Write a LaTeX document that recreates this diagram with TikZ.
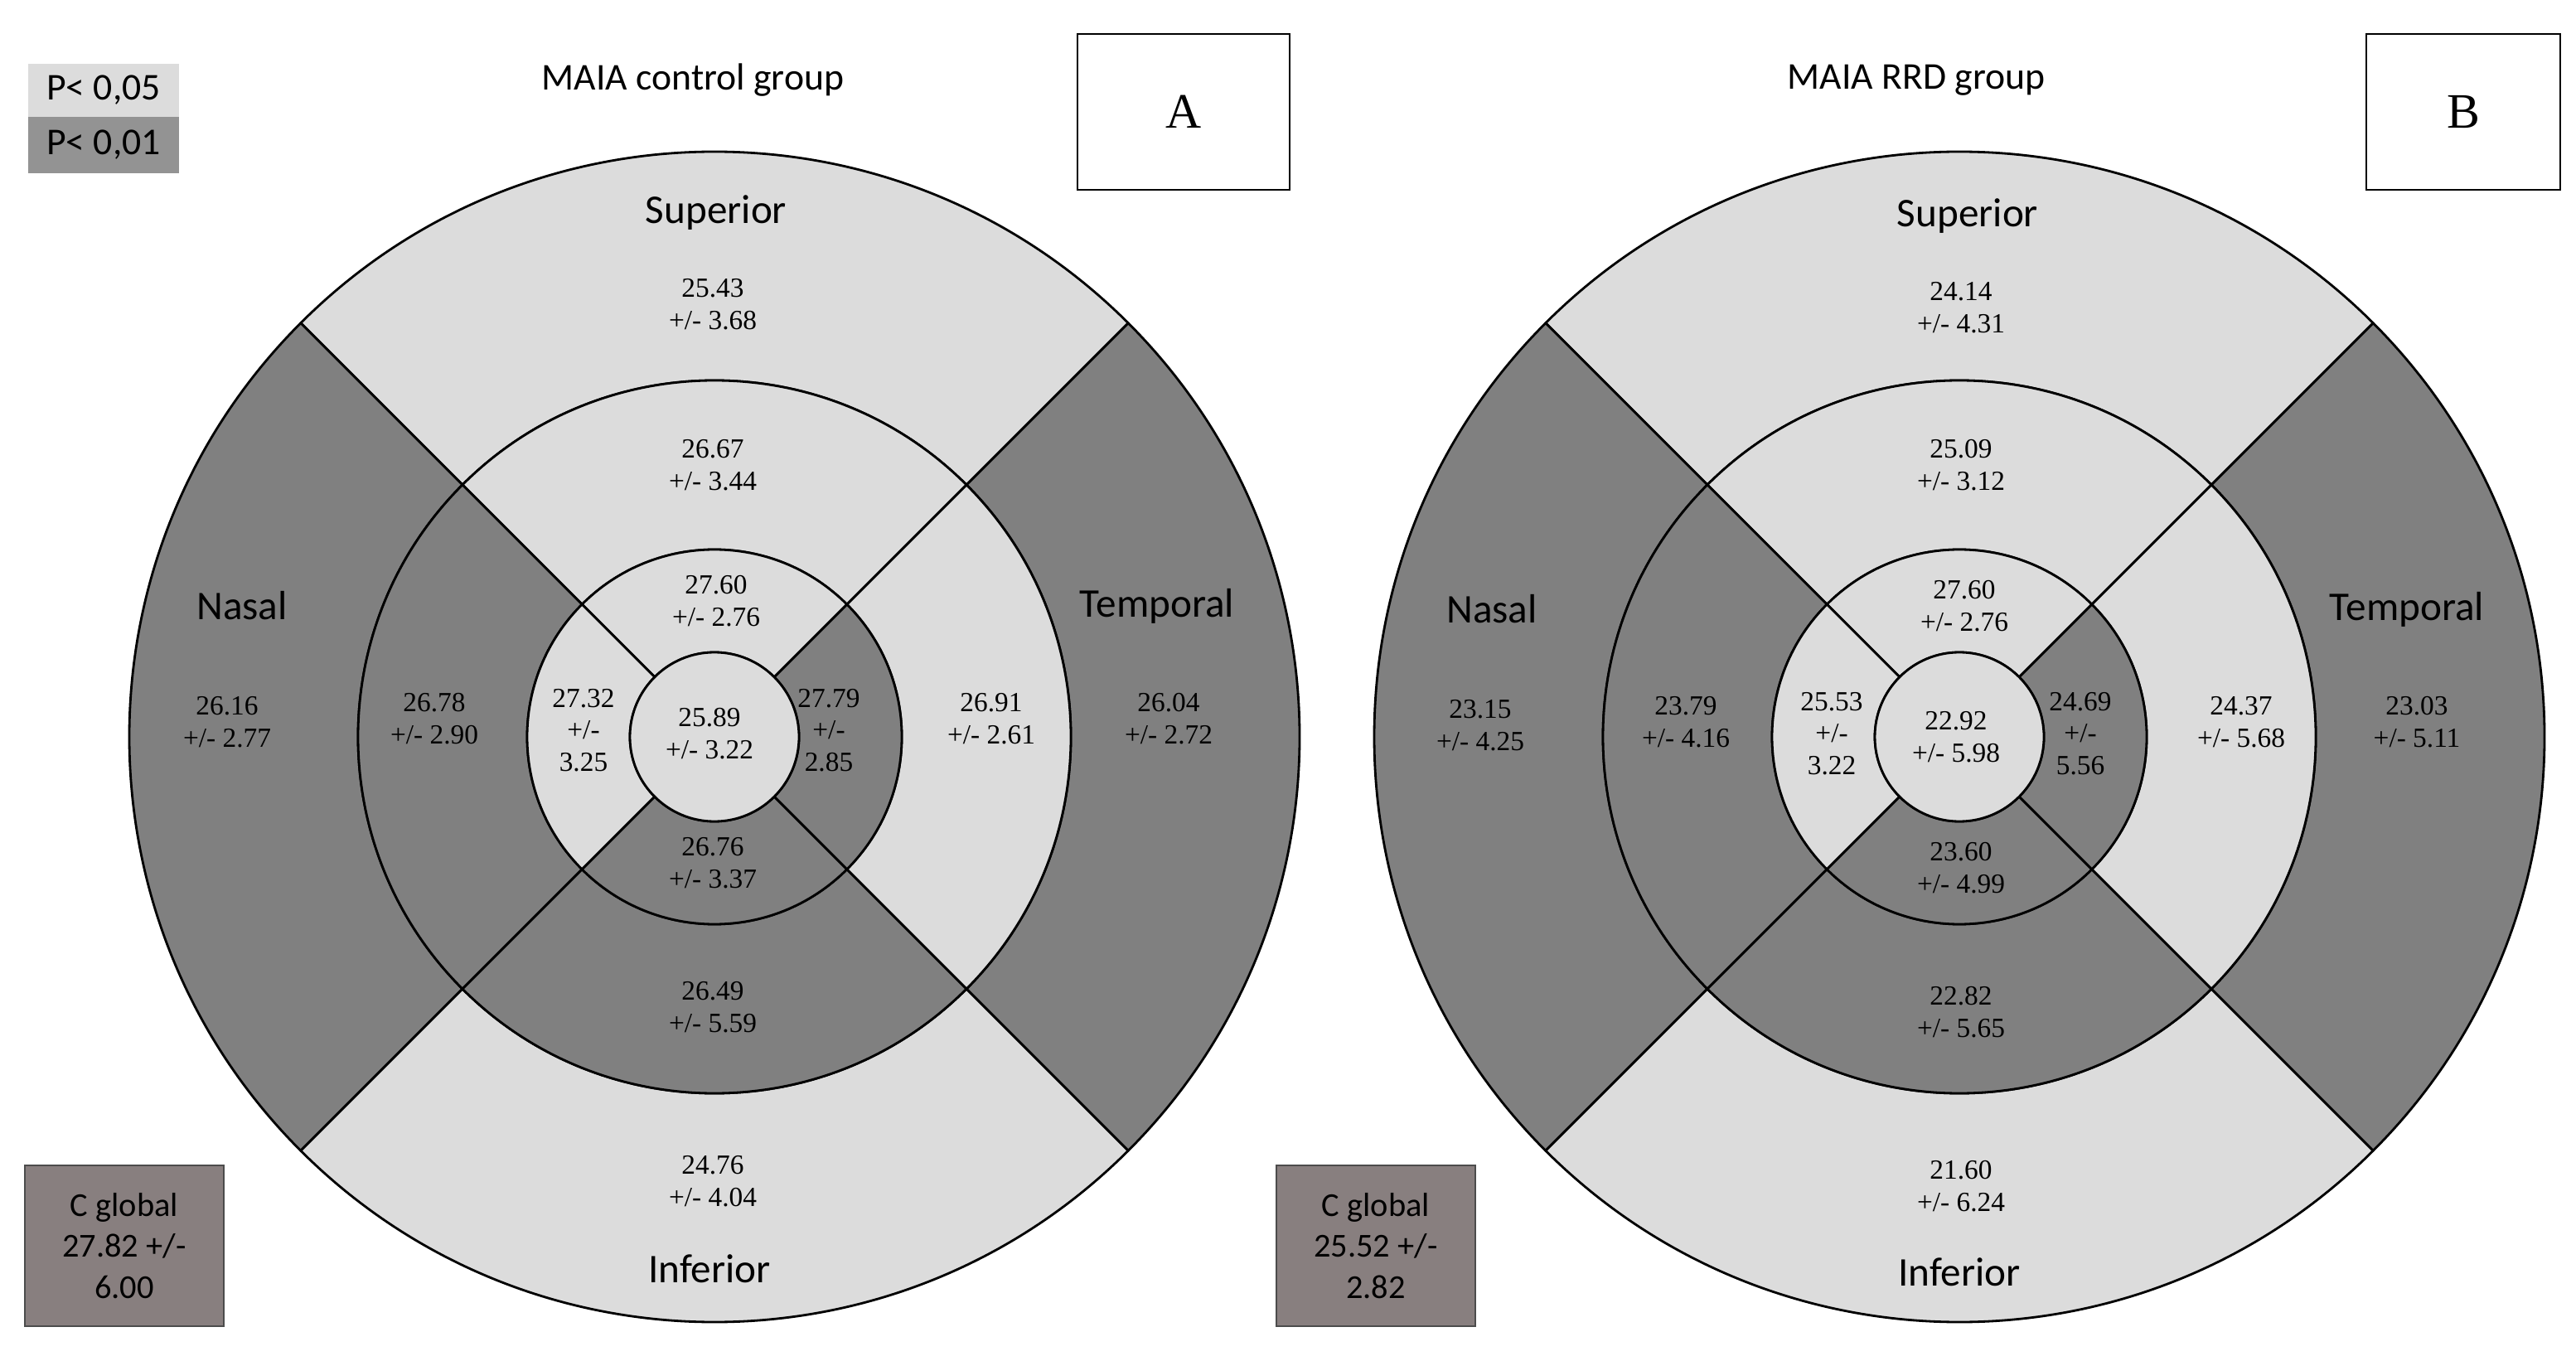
\documentclass[tikz,border=0pt]{standalone}
\usepackage{fontspec}
\usetikzlibrary{calc}
\setmainfont{Liberation Serif}
\newfontfamily\lab{Carlito}
\begin{document}
\begin{tikzpicture}[x=0.02cm,y=0.02cm,
 num/.style={font=\fontsize{9.5}{11}\selectfont,align=center,inner sep=0pt},
 lb/.style={font=\lab\fontsize{14}{16}\selectfont,inner sep=0pt},
 ttl/.style={font=\lab\fontsize{13}{15}\selectfont,inner sep=0pt}]
\definecolor{L}{HTML}{DCDCDC}\definecolor{D}{HTML}{808080}\definecolor{G}{HTML}{887F7F}
\useasboundingbox (0,0) rectangle (1554,820.5);
\newcommand\sect[6]{\fill[#6,draw=black,line width=0.8pt] ($(#1)+(#4:#3)$) arc[start angle=#4,end angle=#5,radius=#3*0.02cm] -- ($(#1)+(#5:#2)$) arc[start angle=#5,end angle=#4,radius=#2*0.02cm] -- cycle;}
\foreach \n/\cx in {a/431,b/1182}{
 \coordinate (\n) at (\cx,376);
 \sect{\n}{215}{353}{45}{135}{L}\sect{\n}{215}{353}{135}{225}{D}\sect{\n}{215}{353}{225}{315}{L}\sect{\n}{215}{353}{-45}{45}{D}
 \sect{\n}{113}{215}{45}{135}{L}\sect{\n}{113}{215}{135}{225}{D}\sect{\n}{113}{215}{225}{315}{D}\sect{\n}{113}{215}{-45}{45}{L}
 \sect{\n}{51}{113}{45}{135}{L}\sect{\n}{51}{113}{135}{225}{L}\sect{\n}{51}{113}{225}{315}{D}\sect{\n}{51}{113}{-45}{45}{D}
 \fill[L,draw=black,line width=0.8pt] (\n) circle[radius=51*0.02cm];
}
% left texts
\node[ttl] (t1) at (418,772) {MAIA control group};
\node[lb] at (432,692) {Superior};
\node[num] at (430,637) {25.43\\+/- 3.68};
\node[num] at (430,540) {26.67\\+/- 3.44};
\node[num] at (432,458) {27.60\\+/- 2.76};
\node[num] at (352,380) {27.32\\+/-\\3.25};
\node[num] at (428,378) {25.89\\+/- 3.22};
\node[num] at (500,380) {27.79\\+/-\\2.85};
\node[num] at (430,300) {26.76\\+/- 3.37};
\node[num] at (430,213) {26.49\\+/- 5.59};
\node[num] at (430,108) {24.76\\+/- 4.04};
\node[lb] at (428,55) {Inferior};
\node[lb] at (146,455) {Nasal};
\node[num] at (137,385) {26.16\\+/- 2.77};
\node[num] at (262,387) {26.78\\+/- 2.90};
\node[num] at (598,387) {26.91\\+/- 2.61};
\node[lb] at (698,455) {Temporal};
\node[num] at (705,387) {26.04\\+/- 2.72};
% right texts
\node[ttl] (t2) at (1156,772) {MAIA RRD group};
\node[lb] at (1187,690) {Superior};
\node[num] at (1183,635) {24.14\\+/- 4.31};
\node[num] at (1183,540) {25.09\\+/- 3.12};
\node[num] at (1185,455) {27.60\\+/- 2.76};
\node[num] at (1105,378) {25.53\\+/-\\3.22};
\node[num] at (1180,376) {22.92\\+/- 5.98};
\node[num] at (1255,378) {24.69\\+/-\\5.56};
\node[num] at (1183,297) {23.60\\+/- 4.99};
\node[num] at (1183,210) {22.82\\+/- 5.65};
\node[num] at (1183,105) {21.60\\+/- 6.24};
\node[lb] at (1182,53) {Inferior};
\node[lb] at (900,453) {Nasal};
\node[num] at (893,383) {23.15\\+/- 4.25};
\node[num] at (1017,385) {23.79\\+/- 4.16};
\node[num] at (1352,385) {24.37\\+/- 5.68};
\node[lb] at (1452,453) {Temporal};
\node[num] at (1458,385) {23.03\\+/- 5.11};
% boxes
\node[draw,line width=0.6pt,minimum width=128*0.02cm,minimum height=94*0.02cm,font=\fontsize{17}{19}\selectfont] (A) at (714,753) {A};
\node[draw,line width=0.6pt,minimum width=117*0.02cm,minimum height=94*0.02cm,font=\fontsize{17}{19}\selectfont] (B) at (1486,753) {B};
\node[fill=L,minimum width=91*0.02cm,minimum height=32*0.02cm,inner sep=0pt,font=\lab\fontsize{13}{15}\selectfont] (p1) at (62.5,766) {P< 0,05};
\node[fill=D!85!white,minimum width=91*0.02cm,minimum height=34*0.02cm,inner sep=0pt,font=\lab\fontsize{13}{15}\selectfont] (p2) at (62.5,733) {P< 0,01};
\node[fill=G,draw=black!70,minimum width=120*0.02cm,minimum height=97*0.02cm,align=center,inner sep=0pt,font=\lab\fontsize{11.5}{14}\selectfont] (c1) at (75,69) {C global\\27.82 +/-\\6.00};
\node[fill=G,draw=black!70,minimum width=120*0.02cm,minimum height=97*0.02cm,align=center,inner sep=0pt,font=\lab\fontsize{11.5}{14}\selectfont] (c2) at (830,69) {C global\\25.52 +/-\\2.82};
\end{tikzpicture}
\end{document}
